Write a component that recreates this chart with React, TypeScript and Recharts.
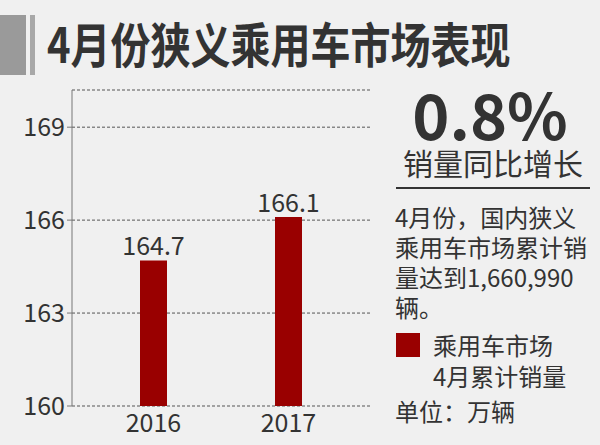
import { BarChart, Bar, XAxis, YAxis, CartesianGrid, LabelList } from "recharts";

const years = ["2016", "2017"];
const sales = [164.7, 166.1];
const yTicks = [160, 163, 166, 169];

const FONT = "'Noto Sans CJK SC', 'Noto Sans', sans-serif";
const TEXT = "#333333";
const RED = "#990000";

export default function App() {
  const data = years.map((y, i) => ({ year: y, value: sales[i] }));

  return (
    <div
      style={{
        position: "fixed",
        left: 0,
        top: 0,
        width: 600,
        height: 445,
        background: "#f0f0f0",
        fontFamily: FONT,
        color: TEXT,
        overflow: "hidden",
      }}
    >
      {/* title bar */}
      <div style={{ position: "absolute", left: 0, top: 15, width: 26, height: 60, background: "#9a9a9a" }} />
      <div style={{ position: "absolute", left: 30, top: 15, width: 5, height: 60, background: "#a8a8a8" }} />
      <div
        style={{
          position: "absolute",
          left: 47,
          top: 19,
          fontSize: 40,
          fontWeight: 700,
          lineHeight: "40px",
          whiteSpace: "nowrap",
          transform: "scale(1, 1.2)",
          transformOrigin: "0 0",
        }}
      >
        4月份狭义乘用车市场表现
      </div>

      <div style={{ position: "absolute", left: 0, top: 0 }}>
        <BarChart width={380} height={445} data={data} margin={{ top: 90, right: 10, bottom: 4, left: 0 }}>
          <CartesianGrid vertical={false} stroke="#555" strokeDasharray="3 2" />
          <XAxis
            dataKey="year"
            axisLine={false}
            tickLine={false}
            height={35}
            padding={{ left: 14, right: 14 }}
            tick={{ fill: TEXT, fontSize: 25, fontFamily: FONT }}
          />
          <YAxis
            width={72}
            domain={[160, 170.2]}
            ticks={yTicks}
            allowDataOverflow
            stroke="#777"
            tickSize={5}
            tick={{ fill: TEXT, fontSize: 25, fontFamily: FONT }}
          />
          <Bar dataKey="value" fill={RED} barSize={27} isAnimationActive={false}>
            <LabelList dataKey="value" position="top" offset={5} fill={TEXT} fontSize={25} fontFamily={FONT} />
          </Bar>
        </BarChart>
      </div>

      {/* right panel */}
      <div
        style={{
          position: "absolute",
          left: 400,
          width: 180,
          top: 82,
          textAlign: "center",
          fontSize: 63,
          fontWeight: 700,
          lineHeight: "62px",
        }}
      >
        0.8%
      </div>
      <div
        style={{
          position: "absolute",
          left: 396,
          width: 194,
          top: 146,
          textAlign: "center",
          fontSize: 30,
          lineHeight: "32px",
          whiteSpace: "nowrap",
        }}
      >
        销量同比增长
      </div>
      <div style={{ position: "absolute", left: 396, top: 187, width: 194, height: 2, background: "#333" }} />

      <div style={{ position: "absolute", left: 395, top: 202, fontSize: 24, lineHeight: "30px", whiteSpace: "nowrap" }}>
        <div>4月份，国内狭义</div>
        <div>乘用车市场累计销</div>
        <div>量达到1,660,990</div>
        <div>辆。</div>
      </div>

      <div style={{ position: "absolute", left: 396, top: 333, width: 24, height: 24, background: RED }} />
      <div style={{ position: "absolute", left: 433, top: 329, fontSize: 24, lineHeight: "31px", whiteSpace: "nowrap" }}>
        <div>乘用车市场</div>
        <div>4月累计销量</div>
      </div>

      <div style={{ position: "absolute", left: 395, top: 396, fontSize: 24, lineHeight: "30px", whiteSpace: "nowrap" }}>
        单位：万辆
      </div>
    </div>
  );
}
